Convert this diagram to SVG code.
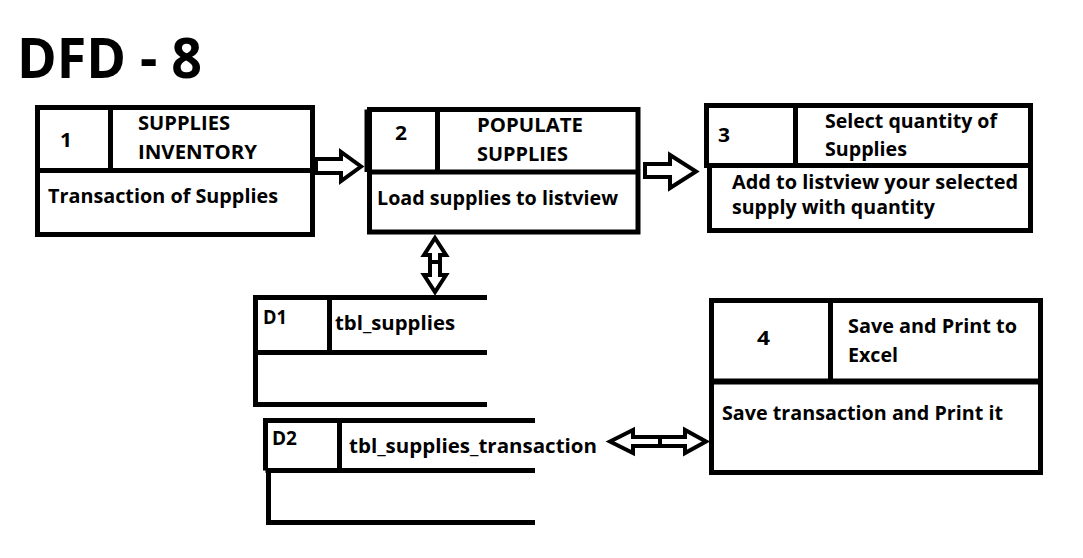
<svg xmlns="http://www.w3.org/2000/svg" width="1083" height="558" viewBox="0 0 1083 558">
<style>
.b{fill:none;stroke:#000;stroke-width:5}
.t{font-family:"Open Sans","Noto Sans",sans-serif;font-weight:bold;font-size:20px;fill:#000}
.arr{fill:#fff;stroke:#000;stroke-width:4;stroke-linejoin:miter}
.ti{font-family:"Open Sans","Noto Sans",sans-serif;font-weight:bold;font-size:56px;fill:#000}
</style>
<rect width="1083" height="558" fill="#fff"/>
<text class="ti" x="17" y="78" textLength="185" lengthAdjust="spacingAndGlyphs">DFD - 8</text>

<g id="p1">
<rect class="b" x="37.5" y="107.5" width="275" height="127"/>
<line class="b" x1="37.5" y1="170.5" x2="312.5" y2="170.5"/>
<line class="b" x1="110.5" y1="107.5" x2="110.5" y2="170.5"/>
<text class="t" x="60" y="147" textLength="12" lengthAdjust="spacingAndGlyphs">1</text>
<text class="t" x="138" y="130" textLength="92" lengthAdjust="spacingAndGlyphs">SUPPLIES</text>
<text class="t" x="138" y="159" textLength="119" lengthAdjust="spacingAndGlyphs">INVENTORY</text>
<text class="t" x="48" y="203" textLength="230" lengthAdjust="spacingAndGlyphs">Transaction of Supplies</text>
</g>

<g id="p2">
<rect class="b" x="369.5" y="109.5" width="268.5" height="122.5"/>
<line class="b" x1="367" y1="109.5" x2="367" y2="172"/>
<line class="b" x1="369.5" y1="172" x2="638" y2="172"/>
<line class="b" x1="437.5" y1="109.5" x2="437.5" y2="172"/>
<text class="t" x="395" y="140" textLength="12" lengthAdjust="spacingAndGlyphs">2</text>
<text class="t" x="477" y="132" textLength="106" lengthAdjust="spacingAndGlyphs">POPULATE</text>
<text class="t" x="477" y="161" textLength="91" lengthAdjust="spacingAndGlyphs">SUPPLIES</text>
<text class="t" x="377" y="205" textLength="241" lengthAdjust="spacingAndGlyphs">Load supplies to listview</text>
</g>

<g id="p3">
<rect class="b" x="706.5" y="105.5" width="324" height="60"/>
<rect class="b" x="709.5" y="165.5" width="321" height="65"/>
<line class="b" x1="795.5" y1="105.5" x2="795.5" y2="165.5"/>
<text class="t" x="718" y="142" textLength="12" lengthAdjust="spacingAndGlyphs">3</text>
<text class="t" x="825" y="128" textLength="172" lengthAdjust="spacingAndGlyphs">Select quantity of</text>
<text class="t" x="825" y="156" textLength="82" lengthAdjust="spacingAndGlyphs">Supplies</text>
<text class="t" x="732" y="189" textLength="286" lengthAdjust="spacingAndGlyphs">Add to listview your selected</text>
<text class="t" x="732" y="214" textLength="203" lengthAdjust="spacingAndGlyphs">supply with quantity</text>
</g>

<g id="p4">
<rect class="b" x="711.5" y="300.5" width="329" height="172"/>
<line class="b" x1="711.5" y1="381.5" x2="1040.5" y2="381.5" style="stroke-width:6"/>
<line class="b" x1="830.5" y1="300.5" x2="830.5" y2="381.5"/>
<text class="t" x="757" y="345" textLength="13" lengthAdjust="spacingAndGlyphs">4</text>
<text class="t" x="848" y="333" textLength="169" lengthAdjust="spacingAndGlyphs">Save and Print to</text>
<text class="t" x="848" y="362" textLength="50" lengthAdjust="spacingAndGlyphs">Excel</text>
<text class="t" x="722" y="420" textLength="281" lengthAdjust="spacingAndGlyphs">Save transaction and Print it</text>
</g>

<g id="d1">
<polyline class="b" points="487,297.5 255.5,297.5 255.5,404.5 487,404.5"/>
<line class="b" x1="255.5" y1="352.5" x2="487" y2="352.5"/>
<line class="b" x1="329.5" y1="297.5" x2="329.5" y2="352.5"/>
<text class="t" x="263" y="324" textLength="24" lengthAdjust="spacingAndGlyphs">D1</text>
<text class="t" x="335" y="330" textLength="120" lengthAdjust="spacingAndGlyphs">tbl_supplies</text>
</g>

<g id="d2">
<polyline class="b" points="535,420.5 265.5,420.5 265.5,470.5"/>
<polyline class="b" points="268.5,470.5 268.5,522.5 535,522.5"/>
<line class="b" x1="265.5" y1="470.5" x2="535" y2="470.5"/>
<line class="b" x1="339.5" y1="420.5" x2="339.5" y2="470.5"/>
<text class="t" x="272" y="445" textLength="25" lengthAdjust="spacingAndGlyphs">D2</text>
<text class="t" x="349" y="453" textLength="248" lengthAdjust="spacingAndGlyphs">tbl_supplies_transaction</text>
</g>

<g id="connectors">
<polygon class="arr" points="316,159 341,159 341,152 361,166.5 341,181 341,173 316,173"/>
<polygon class="arr" points="645,164 670,164 670,155 696,171.5 670,188 670,177 645,177"/>
<polygon class="arr" points="435,238 446,255 440,255 440,275 446,275 435,292 424,275 430,275 430,255 424,255"/>
<line x1="430" y1="262" x2="440" y2="262" stroke="#000" stroke-width="4"/>
<polygon class="arr" points="610,441.5 633,430 633,437 685,437 685,430 706,441.5 685,453 685,446 633,446 633,453"/>
<line x1="660" y1="437" x2="660" y2="446" stroke="#000" stroke-width="4"/>
</g>
</svg>
